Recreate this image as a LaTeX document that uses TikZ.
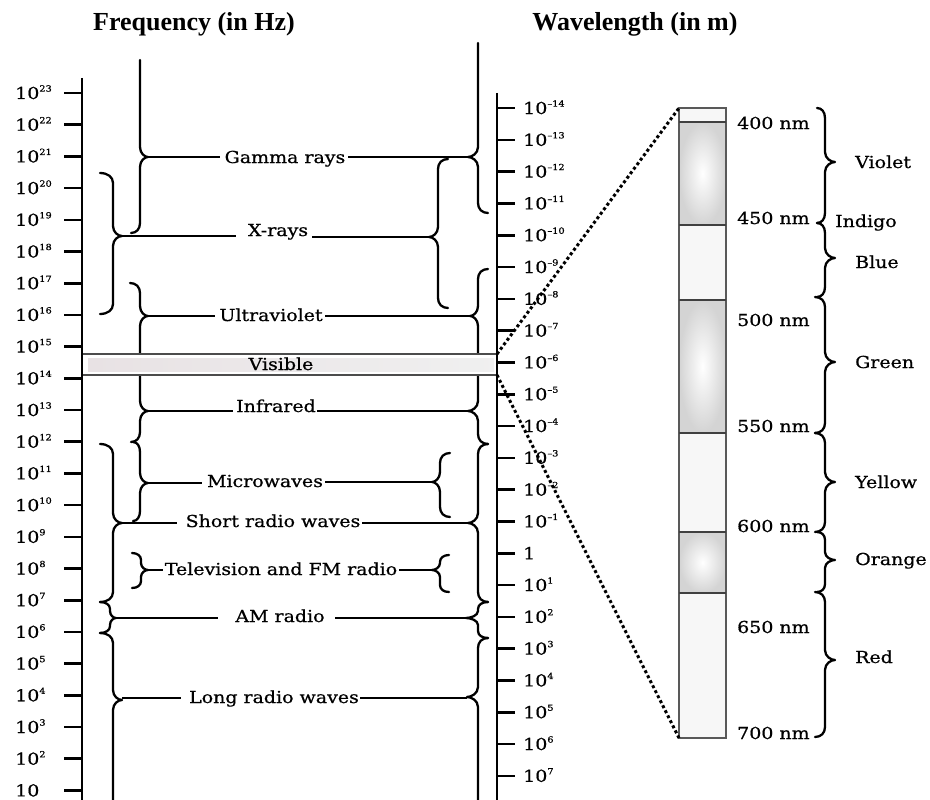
\documentclass[tikz,border=0pt]{standalone}
\usepackage{fontspec}
\newfontfamily\lab[FakeStretch=1.15,FakeBold=0.7]{DejaVu Serif}
\newfontfamily\ttlfont{Liberation Serif}
\usetikzlibrary{calc}
\newcommand\sps[1]{\raisebox{0.45em}{\fontsize{8.5}{9}\selectfont #1}}
\def\rr{10}
% x, y1 (top), yt (tip), y2 (bottom), dt (tip offset), dh (hook offset)
\newcommand\brcAll[6]{%
 \draw[brc] ({#1+(#6)},#2) .. controls ({#1+0.4*(#6)},#2) and (#1,{#2+0.4*\rr}) .. (#1,{#2+\rr})
   -- (#1,{#3-\rr}) .. controls (#1,{#3-0.35*\rr}) and ({#1+0.6*(#5)},#3) .. ({#1+(#5)},#3)
   .. controls ({#1+0.6*(#5)},#3) and (#1,{#3+0.35*\rr}) .. (#1,{#3+\rr})
   -- (#1,{#4-\rr}) .. controls (#1,{#4-0.4*\rr}) and ({#1+0.4*(#6)},#4) .. ({#1+(#6)},#4);}
\newcommand\brcTop[6]{%
 \draw[brc] (#1,#2)
   -- (#1,{#3-\rr}) .. controls (#1,{#3-0.35*\rr}) and ({#1+0.6*(#5)},#3) .. ({#1+(#5)},#3)
   .. controls ({#1+0.6*(#5)},#3) and (#1,{#3+0.35*\rr}) .. (#1,{#3+\rr})
   -- (#1,{#4-\rr}) .. controls (#1,{#4-0.4*\rr}) and ({#1+0.4*(#6)},#4) .. ({#1+(#6)},#4);}
\newcommand\brcBot[6]{%
 \draw[brc] ({#1+(#6)},#2) .. controls ({#1+0.4*(#6)},#2) and (#1,{#2+0.4*\rr}) .. (#1,{#2+\rr})
   -- (#1,{#3-\rr}) .. controls (#1,{#3-0.35*\rr}) and ({#1+0.6*(#5)},#3) .. ({#1+(#5)},#3)
   .. controls ({#1+0.6*(#5)},#3) and (#1,{#3+0.35*\rr}) .. (#1,{#3+\rr})
   -- (#1,#4);}
\begin{document}
\begin{tikzpicture}[x=1pt,y=-1pt,
  brc/.style={line width=2.3pt, line cap=round, line join=round},
  ln/.style={line width=2.3pt},
  tk/.style={line width=2.6pt},
  axis/.style={line width=2.6pt},
  txt/.style={font=\lab\fontsize{16.5}{19}\selectfont, inner sep=0pt, text height=12pt, text depth=0pt},
  ttl/.style={font=\ttlfont\bfseries\fontsize{26}{29}\selectfont, inner sep=0pt},
  dots/.style={line width=3pt, dash pattern=on 3pt off 2.6pt}]
\useasboundingbox (0,0) rectangle (930,800);
\fill[white] (0,0) rectangle (930,800);

% titles
\node[ttl, anchor=base] (tfreq) at (194,31) {Frequency (in Hz)};
\node[ttl, anchor=base] (twave) at (635,31) {Wavelength (in m)};

% left braces
\brcTop{140}{60}{157}{233}{8}{-9}
\brcAll{113}{173}{236}{314}{9}{-13}
\brcBot{140}{283}{316}{362}{8}{-10}
\brcTop{140}{368}{411}{442}{8}{-9}
\brcAll{140}{442}{483}{521}{8}{-7}
\brcAll{113}{444}{523}{602}{9}{-13}
\def\rr{7}
\brcAll{141}{553}{570}{588}{7}{-9}
\brcAll{110}{602}{618}{633}{6}{-10}
\def\rr{10}
\brcBot{113}{633}{700}{800}{9}{-13}

% right braces
\brcTop{478}{43}{157}{213}{-10}{10}
\brcAll{438}{159}{237}{308}{-9}{10}
\brcBot{478}{269}{316}{362}{-8}{10}
\brcTop{478}{368}{411}{444}{-10}{10}
\brcAll{478}{444}{523}{602}{-10}{10}
\brcAll{440}{453}{482}{517}{-8}{10}
\def\rr{7}
\brcAll{478}{602}{618}{638}{-12}{10}
\brcAll{440}{555}{570}{592}{-8}{9}
\def\rr{10}
\brcBot{478}{638}{697}{800}{-11}{10}

% region labels
\node[txt] (gamma) at (285,157) {Gamma rays};
\node[txt] (xray) at (278,230) {X-rays};
\node[txt] (uv) at (271,315) {Ultraviolet};
\node[txt] (ir) at (276,406) {Infrared};
\node[txt] (mw) at (265,481) {Microwaves};
\node[txt] (sr) at (273,521) {Short radio waves};
\node[txt] (tv) at (281,569) {Television and FM radio};
\node[txt] (am) at (280,616) {AM radio};
\node[txt] (lr) at (274,697) {Long radio waves};

% connector lines: brace tip -> label
\coordinate (gL) at (148,157); \coordinate (gR) at (468,157);
\draw[ln, shorten >=4pt] (gL) -- (gL -| gamma.west);
\draw[ln, shorten >=2pt] (gR) -- (gR -| gamma.east);
\coordinate (xL) at (122,236); \coordinate (xR) at (429,237);
\draw[ln, shorten >=12pt] (xL) -- (xL -| xray.west);
\draw[ln, shorten >=4pt] (xR) -- (xR -| xray.east);
\coordinate (uL) at (148,316); \coordinate (uR) at (470,316);
\draw[ln, shorten >=4pt] (uL) -- (uL -| uv.west);
\draw[ln, shorten >=2pt] (uR) -- (uR -| uv.east);
\coordinate (iL) at (148,411); \coordinate (iR) at (468,411);
\draw[ln, shorten >=3pt] (iL) -- (iL -| ir.west);
\draw[ln, shorten >=1pt] (iR) -- (iR -| ir.east);
\coordinate (mL) at (148,483); \coordinate (mR) at (432,482);
\draw[ln, shorten >=5pt] (mL) -- (mL -| mw.west);
\draw[ln, shorten >=2pt] (mR) -- (mR -| mw.east);
\coordinate (sL) at (122,523); \coordinate (sR) at (468,523);
\draw[ln, shorten >=8pt] (sL) -- (sL -| sr.west);
\draw[ln, shorten >=1pt] (sR) -- (sR -| sr.east);
\coordinate (tL) at (148,570); \coordinate (tR) at (432,570);
\draw[ln, shorten >=2pt] (tL) -- (tL -| tv.west);
\draw[ln, shorten >=2pt] (tR) -- (tR -| tv.east);
\coordinate (aL) at (116,618); \coordinate (aR) at (466,618);
\draw[ln, shorten >=17pt] (aL) -- (aL -| am.west);
\draw[ln, shorten >=10pt] (aR) -- (aR -| am.east);
\coordinate (lL) at (122,698); \coordinate (lR) at (467,698);
\draw[ln, shorten >=8pt] (lL) -- (lL -| lr.west);
\draw[ln, shorten >=1pt] (lR) -- (lR -| lr.east);

% visible band
\fill[white] (82,354) rectangle (497,375);
\shade[left color={rgb,255:red,232;green,226;blue,228}, right color=gray!12] (88,358) rectangle (494,371);
\draw[line width=1.8pt, black!70] (82,354) -- (497,354) (82,375) -- (497,375);
\node[txt] (vis) at (281,364) {Visible};
\coordinate (visNE) at (497,354);
\coordinate (visSE) at (497,375);

% axes
\draw[axis] (82,78) -- (82,800);
\draw[axis] (497,93) -- (497,800);
\foreach \n in {2,...,23} {
  \pgfmathsetmacro\yy{93+(23-\n)*31.7}
  \draw[tk] (64,\yy) -- (82,\yy);
  \node[txt, anchor=west] (fl\n) at (15,\yy) {10\sps{\n}};
}
\pgfmathsetmacro\yy{93+22*31.7}
\draw[tk] (64,\yy) -- (82,\yy);
\node[txt, anchor=west] (fl1) at (15,\yy) {10};
\foreach \t [count=\i from 0] in {{10\sps{–14}},{10\sps{–13}},{10\sps{–12}},{10\sps{–11}},{10\sps{–10}},{10\sps{–9}},{10\sps{–8}},{10\sps{–7}},{10\sps{–6}},{10\sps{–5}},{10\sps{–4}},{10\sps{–3}},{10\sps{–2}},{10\sps{–1}},{1},{10\sps{1}},{10\sps{2}},{10\sps{3}},{10\sps{4}},{10\sps{5}},{10\sps{6}},{10\sps{7}}} {
  \pgfmathsetmacro\yy{108+\i*31.8}
  \draw[tk] (497,\yy) -- (515,\yy);
  \node[txt, anchor=west] (wl\i) at (523,\yy) {\t};
}

% spectrum bar
\fill[gray!6] (679,108) rectangle (726,122);
\shade[inner color=white, outer color=gray!34] (679,122) rectangle (726,225);
\fill[gray!6] (679,225) rectangle (726,300);
\shade[inner color=white, outer color=gray!34] (679,300) rectangle (726,433);
\fill[gray!6] (679,433) rectangle (726,532);
\shade[inner color=white, outer color=gray!34] (679,532) rectangle (726,593);
\fill[gray!6] (679,593) rectangle (726,738);
\draw[black!65, line width=1.2pt] (679,108) rectangle (726,738);
\foreach \yy in {122,225,300,433,532,593} \draw[black!75, line width=1.2pt] (679,\yy) -- (726,\yy);
\coordinate (barTL) at (679,108);
\coordinate (barBL) at (679,738);

% dotted zoom lines
\draw[dots] (visNE) -- (barTL);
\draw[dots] (visSE) -- (barBL);

% nm labels
\node[txt, anchor=west] (n400) at (737,123) {400 nm};
\node[txt, anchor=west] (n450) at (737,218) {450 nm};
\node[txt, anchor=west] (n500) at (737,320) {500 nm};
\node[txt, anchor=west] (n550) at (737,426) {550 nm};
\node[txt, anchor=west] (n600) at (737,526) {600 nm};
\node[txt, anchor=west] (n650) at (737,627) {650 nm};
\node[txt, anchor=west] (n700) at (737,733) {700 nm};

% colour braces
\brcAll{825}{108}{162}{223}{10}{-8}
\brcAll{825}{223}{258}{297}{10}{-8}
\brcAll{825}{297}{362}{433}{10}{-10}
\brcAll{825}{433}{482}{532}{10}{-10}
\def\rr{8}
\brcAll{825}{532}{560}{592}{10}{-8}
\def\rr{10}
\brcAll{825}{592}{660}{737}{10}{-10}

\node[txt, anchor=west] (cv) at (855,162) {Violet};
\node[txt, anchor=west] (ci) at (835,221) {Indigo};
\node[txt, anchor=west] (cb) at (855,262) {Blue};
\node[txt, anchor=west] (cg) at (855,362) {Green};
\node[txt, anchor=west] (cy) at (855,482) {Yellow};
\node[txt, anchor=west] (co) at (855,559) {Orange};
\node[txt, anchor=west] (cr) at (855,657) {Red};
\end{tikzpicture}
\end{document}
